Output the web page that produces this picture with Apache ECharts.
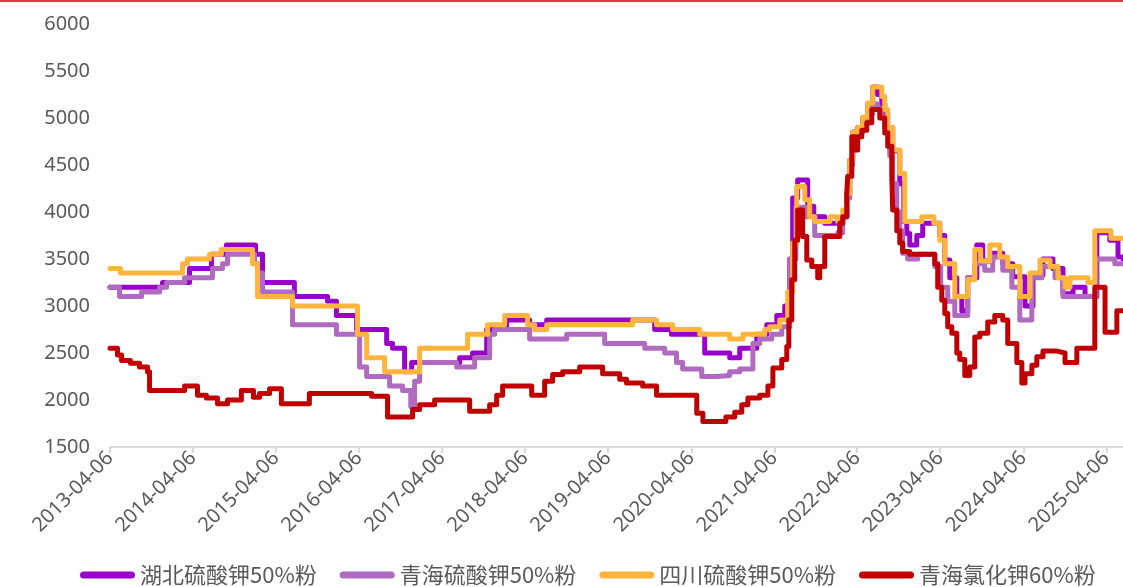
<!DOCTYPE html>
<html><head><meta charset="utf-8">
<script src="https://cdn.jsdelivr.net/npm/echarts@6/dist/echarts.min.js"></script>
<style>html,body{margin:0;padding:0;background:#fff}#c{width:1123px;height:587px}</style>
</head><body><div id="c"></div>
<script>
const seriesNames = ['湖北硫酸钾50%粉', '青海硫酸钾50%粉', '四川硫酸钾50%粉', '青海氯化钾60%粉'];
const seriesColors = ['#9900CC', '#B06BC0', '#FFB43C', '#C00000'];
const tickLabels = ['2013-04-06','2014-04-06','2015-04-06','2016-04-06','2017-04-06','2018-04-06','2019-04-06','2020-04-06','2021-04-06','2022-04-06','2023-04-06','2024-04-06','2025-04-06'];
const xMin = '2013-04-06';
const xMax = '2025-06-18';
const yTicks = [1500, 2000, 2500, 3000, 3500, 4000, 4500, 5000, 5500, 6000];

const hubeiSulfate = [['2013-04-06',3200],['2013-11-23',3250],['2014-03-22',3400],['2014-06-26',3550],['2014-08-31',3650],['2015-01-06',3550],['2015-02-06',3250],['2015-06-26',3100],['2015-11-19',3050],['2015-12-28',2900],['2016-03-26',2750],['2016-08-05',2600],['2016-08-31',2550],['2016-10-23',2300],['2016-11-23',2400],['2017-06-22',2450],['2017-08-18',2500],['2017-10-19',2750],['2018-01-15',2850],['2018-04-26',2800],['2018-07-10',2850],['2019-10-28',2750],['2020-01-10',2700],['2020-06-04',2500],['2020-09-22',2450],['2020-11-05',2550],['2021-01-19',2700],['2021-03-04',2800],['2021-04-17',2900],['2021-05-22',3000],['2021-06-13',3500],['2021-06-26',4150],['2021-07-18',4340],['2021-08-31',4060],['2021-09-27',3950],['2021-11-14',3880],['2022-02-01',3950],['2022-02-19',4200],['2022-03-04',4550],['2022-03-17',4850],['2022-04-08',4900],['2022-04-30',5000],['2022-05-22',5150],['2022-06-13',5330],['2022-07-05',5250],['2022-07-23',5150],['2022-08-05',5050],['2022-08-18',4900],['2022-09-09',4650],['2022-10-10',4300],['2022-10-28',3900],['2022-11-10',3770],['2022-11-23',3650],['2022-12-24',3750],['2023-01-19',3880],['2023-04-04',3750],['2023-04-26',3490],['2023-05-18',3300],['2023-06-18',3100],['2023-07-10',2950],['2023-08-05',3300],['2023-09-14',3650],['2023-10-10',3480],['2023-11-23',3560],['2024-01-06',3450],['2024-02-19',3310],['2024-04-13',3000],['2024-05-18',3330],['2024-07-01',3500],['2024-08-14',3400],['2024-09-27',3130],['2024-11-10',3200],['2025-01-02',3100],['2025-02-23',3780],['2025-04-21',3700],['2025-05-27',3520],['2025-06-18',3500]];

const qinghaiSulfate = [['2013-04-06',3200],['2013-05-18',3100],['2013-08-23',3150],['2013-11-10',3200],['2013-12-11',3250],['2014-02-28',3300],['2014-07-01',3400],['2014-08-14',3450],['2014-09-05',3550],['2015-01-02',3450],['2015-01-15',3350],['2015-02-06',3150],['2015-06-18',2800],['2015-12-28',2700],['2016-04-08',2350],['2016-05-09',2250],['2016-08-18',2150],['2016-10-14',2100],['2016-11-19',1930],['2016-12-06',2200],['2016-12-28',2400],['2017-06-09',2350],['2017-08-27',2450],['2017-11-01',2700],['2017-11-23',2750],['2018-04-26',2650],['2018-10-06',2700],['2019-03-22',2600],['2019-09-14',2550],['2019-12-11',2500],['2020-02-01',2400],['2020-02-28',2330],['2020-05-22',2250],['2020-07-27',2260],['2020-09-22',2300],['2020-11-05',2330],['2021-01-02',2600],['2021-02-01',2650],['2021-03-26',2700],['2021-05-09',2780],['2021-06-13',3500],['2021-07-10',4050],['2021-08-23',3950],['2021-10-01',3750],['2022-01-10',3780],['2022-02-01',3950],['2022-02-19',4150],['2022-03-04',4500],['2022-03-17',4750],['2022-04-08',4850],['2022-04-30',4950],['2022-05-22',5050],['2022-06-13',5150],['2022-07-05',5100],['2022-07-23',5000],['2022-08-05',4900],['2022-08-27',4600],['2022-09-09',4300],['2022-09-27',4000],['2022-10-10',3800],['2022-10-23',3560],['2022-11-14',3500],['2022-12-28',3550],['2023-03-13',3420],['2023-04-08',3200],['2023-05-09',3050],['2023-06-09',2900],['2023-08-05',3300],['2023-09-05',3450],['2023-10-19',3380],['2023-11-23',3520],['2024-01-06',3380],['2024-02-15',3200],['2024-03-21',2850],['2024-05-13',3300],['2024-06-26',3420],['2024-08-23',3300],['2024-09-27',3100],['2025-02-19',3500],['2025-05-13',3450],['2025-06-18',3450]];

const sichuanSulfate = [['2013-04-06',3400],['2013-05-22',3350],['2014-02-19',3450],['2014-03-13',3500],['2014-06-18',3550],['2014-08-09',3600],['2014-12-24',3450],['2015-01-15',3100],['2015-06-18',3000],['2016-03-30',2700],['2016-05-09',2450],['2016-07-27',2300],['2016-12-28',2550],['2017-07-27',2700],['2017-10-23',2800],['2018-01-06',2900],['2018-04-17',2800],['2018-05-18',2750],['2018-07-10',2800],['2019-07-23',2850],['2019-11-05',2800],['2020-01-15',2750],['2020-05-13',2700],['2020-09-22',2650],['2020-11-19',2700],['2021-02-23',2750],['2021-03-17',2780],['2021-04-30',2850],['2021-06-04',3150],['2021-06-26',3670],['2021-07-14',4270],['2021-08-18',4130],['2021-09-09',3950],['2021-10-01',3900],['2021-12-06',3950],['2022-01-10',3900],['2022-02-01',4020],['2022-02-19',4200],['2022-03-04',4550],['2022-03-17',4850],['2022-04-08',4900],['2022-04-30',5010],['2022-05-22',5160],['2022-06-13',5330],['2022-07-05',5330],['2022-07-23',5230],['2022-08-05',5090],['2022-08-18',4900],['2022-09-09',4660],['2022-10-10',4410],['2022-11-01',3900],['2023-01-15',3950],['2023-03-09',3880],['2023-04-04',3700],['2023-04-26',3450],['2023-06-09',3100],['2023-08-05',3280],['2023-09-05',3600],['2023-10-01',3480],['2023-11-10',3650],['2023-12-24',3520],['2024-01-28',3420],['2024-03-21',3100],['2024-05-05',3350],['2024-06-18',3490],['2024-08-01',3420],['2024-09-05',3300],['2024-10-06',3200],['2024-10-28',3300],['2025-01-15',3250],['2025-02-14',3800],['2025-04-26',3720],['2025-06-18',3720]];

const qinghaiChloride = [['2013-04-06',2550],['2013-05-09',2480],['2013-05-27',2420],['2013-07-05',2390],['2013-08-14',2350],['2013-09-18',2300],['2013-09-27',2100],['2014-02-28',2150],['2014-04-26',2050],['2014-06-04',2020],['2014-07-23',1960],['2014-09-05',2000],['2014-11-05',2100],['2014-12-28',2030],['2015-01-24',2070],['2015-03-09',2120],['2015-04-30',1960],['2015-08-31',2070],['2016-05-31',2040],['2016-08-09',1820],['2016-11-27',1900],['2016-12-28',1950],['2017-03-04',2000],['2017-08-05',1880],['2017-11-01',1950],['2017-12-02',2050],['2017-12-28',2150],['2018-05-05',2050],['2018-07-01',2200],['2018-08-05',2270],['2018-09-18',2300],['2018-12-02',2350],['2019-03-13',2280],['2019-05-27',2220],['2019-06-26',2180],['2019-09-05',2150],['2019-11-05',2050],['2020-04-30',1860],['2020-05-27',1770],['2020-09-05',1820],['2020-10-14',1870],['2020-11-14',1950],['2020-12-11',2020],['2021-02-01',2050],['2021-03-09',2150],['2021-03-31',2340],['2021-05-09',2430],['2021-05-31',2570],['2021-06-09',2850],['2021-06-22',3280],['2021-07-05',3700],['2021-07-18',4020],['2021-08-09',3740],['2021-08-27',3490],['2021-09-18',3420],['2021-10-14',3300],['2021-10-23',3420],['2021-11-14',3740],['2022-01-19',3880],['2022-02-01',3950],['2022-02-19',4200],['2022-02-23',4380],['2022-03-13',4800],['2022-03-26',4660],['2022-04-08',4800],['2022-04-26',4870],['2022-05-18',4950],['2022-06-09',5090],['2022-07-14',5000],['2022-08-05',4840],['2022-08-18',4700],['2022-09-05',4380],['2022-09-09',4020],['2022-09-27',3800],['2022-10-10',3670],['2022-10-23',3580],['2022-11-23',3550],['2023-03-13',3450],['2023-03-26',3200],['2023-04-13',3060],['2023-04-26',2920],['2023-05-09',2780],['2023-05-27',2710],['2023-06-18',2500],['2023-07-01',2430],['2023-07-23',2260],['2023-08-14',2350],['2023-09-05',2670],['2023-09-27',2710],['2023-11-01',2830],['2023-12-02',2900],['2024-01-06',2850],['2024-01-28',2600],['2024-03-08',2400],['2024-03-30',2180],['2024-04-13',2280],['2024-05-13',2370],['2024-06-04',2460],['2024-07-01',2520],['2024-08-31',2500],['2024-10-06',2400],['2024-11-27',2550],['2025-02-14',3200],['2025-03-31',2720],['2025-05-22',2950],['2025-06-18',2950]];

const seriesData = [hubeiSulfate, qinghaiSulfate, sichuanSulfate, qinghaiChloride];

const toTs = s => { const p = s.split('-').map(Number); return Date.UTC(p[0], p[1] - 1, p[2]); };
const pad = n => String(n).padStart(2, '0');
const tickValues = tickLabels.map(toTs);
const FONT = "'Noto Sans', 'Noto Sans CJK SC', sans-serif";

const chart = echarts.init(document.getElementById('c'), null, {renderer: 'canvas'});
chart.setOption({
  animation: false,
  backgroundColor: '#ffffff',
  textStyle: {fontFamily: FONT},
  graphic: [{type: 'rect', left: 0, top: 0, shape: {width: 1123, height: 2}, style: {fill: '#E0383E'}}],
  grid: {left: 110, right: 0, top: 24, bottom: 140, containLabel: false, outerBoundsMode: 'none'},
  xAxis: {
    type: 'value', min: toTs(xMin), max: toTs(xMax), scale: true,
    axisLine: {lineStyle: {color: '#D9D9D9', width: 2}},
    axisTick: {show: true, length: 6, lineStyle: {color: '#D9D9D9', width: 2}, customValues: tickValues},
    axisLabel: {
      customValues: tickValues, rotate: 45, fontSize: 20, color: '#595959', margin: 8, hideOverlap: false,
      fontFamily: FONT,
      formatter: v => { const d = new Date(v); return d.getUTCFullYear() + '-' + pad(d.getUTCMonth() + 1) + '-' + pad(d.getUTCDate()); }
    },
    splitLine: {show: false}
  },
  yAxis: {
    type: 'value', min: yTicks[0], max: yTicks[yTicks.length - 1], interval: 500,
    axisLine: {show: false}, axisTick: {show: false}, splitLine: {show: false},
    axisLabel: {fontSize: 20, color: '#595959', margin: 20, fontFamily: FONT, formatter: v => String(v)}
  },
  legend: {
    left: 80, top: 564, padding: 0, itemWidth: 55, itemHeight: 7, itemGap: 23,
    icon: 'path://M3.5,0 L51.5,0 A3.5,3.5 0 0 1 51.5,7 L3.5,7 A3.5,3.5 0 0 1 3.5,0 Z',
    textStyle: {fontSize: 22, color: '#595959', fontFamily: "'Noto Sans CJK SC', sans-serif"},
    data: seriesNames
  },
  series: seriesNames.map((name, i) => ({
    name, type: 'line', step: 'end', symbol: 'none', showSymbol: false,
    data: seriesData[i].map(d => [toTs(d[0]), d[1]]),
    lineStyle: {width: 5, color: seriesColors[i], cap: 'round', join: 'round'},
    itemStyle: {color: seriesColors[i]},
    z: 2 + i
  }))
});
</script>
</body></html>
